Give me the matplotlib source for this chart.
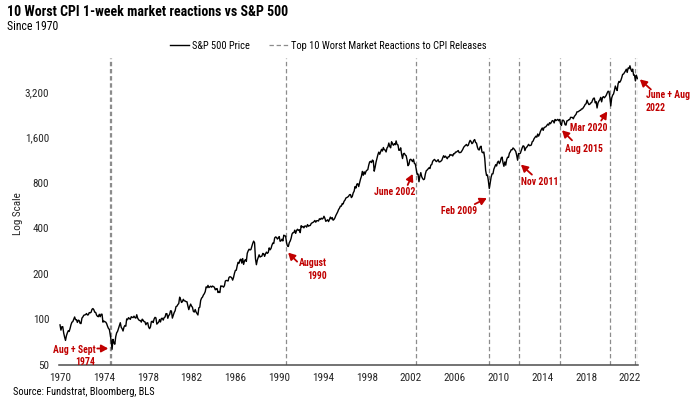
import matplotlib
matplotlib.use("Agg")
import matplotlib.pyplot as plt
from matplotlib import font_manager
from matplotlib.transforms import offset_copy
from matplotlib.ticker import FixedLocator, FuncFormatter, NullLocator
import numpy as np


def _weight(w):
    return w if isinstance(w, int) else font_manager.weight_dict.get(w, 400)


# fuente estrecha tipo Arial Narrow que tenga variante negrita
fonts = font_manager.fontManager.ttflist
candidates = ["Arial Narrow", "Liberation Sans Narrow", "Archivo Narrow", "Roboto Condensed",
              "PT Sans Narrow", "Fira Sans Condensed", "IBM Plex Sans Condensed",
              "Encode Sans Condensed", "Barlow Semi Condensed", "Pragati Narrow"]
narrow = [n for n in candidates
          if any(f.name == n and _weight(f.weight) >= 600 for f in fonts)
          and any(f.name == n and _weight(f.weight) <= 500 for f in fonts)]
plt.rcParams["font.family"] = narrow[:1] + ["Liberation Sans", "DejaVu Sans"]

# --- datos: cierre mensual aproximado del S&P 500 (dic 1969 .. sep 2022) ---
start_value = 92.1
sp500_monthly = [
    85.0, 89.5, 89.6, 81.5, 76.6, 72.7, 78.1, 81.5, 84.2, 83.3, 87.2, 92.2,         # 1970
    95.9, 96.8, 100.3, 103.9, 99.6, 99.7, 95.6, 99.0, 98.3, 94.2, 94.0, 102.1,      # 1971
    103.9, 106.6, 107.2, 107.7, 109.5, 107.1, 107.4, 111.1, 110.6, 111.6, 116.7, 118.1,  # 1972
    116.0, 111.7, 111.5, 107.0, 105.0, 104.3, 108.2, 104.3, 108.4, 108.3, 96.0, 97.6,    # 1973
    96.6, 96.2, 94.0, 90.3, 87.3, 86.0, 79.3, 72.2, 63.5, 73.9, 70.0, 68.6,         # 1974
    77.0, 81.6, 83.4, 87.3, 91.2, 95.2, 88.8, 86.9, 83.9, 89.0, 91.2, 90.2,         # 1975
    100.9, 99.7, 102.8, 101.6, 100.2, 104.3, 103.4, 102.9, 105.2, 102.9, 102.1, 107.5,   # 1976
    102.0, 99.8, 98.4, 98.4, 96.1, 100.5, 98.9, 96.8, 96.5, 92.3, 94.8, 95.1,       # 1977
    89.3, 87.0, 89.2, 96.8, 97.3, 95.5, 100.7, 103.3, 102.5, 93.2, 94.7, 96.1,      # 1978
    99.9, 96.3, 101.6, 101.8, 99.1, 102.9, 103.8, 109.3, 109.3, 101.8, 106.2, 107.9,     # 1979
    114.2, 113.7, 102.1, 106.3, 111.2, 114.2, 121.7, 122.4, 125.5, 127.5, 140.5, 135.8,  # 1980
    129.6, 131.3, 136.0, 132.8, 132.6, 131.2, 130.9, 122.8, 116.2, 121.9, 126.4, 122.6,  # 1981
    120.4, 113.1, 112.0, 116.4, 111.9, 109.6, 107.1, 119.5, 120.4, 133.7, 138.5, 140.6,  # 1982
    145.3, 148.1, 153.0, 164.4, 162.4, 168.1, 162.6, 164.4, 166.1, 163.6, 166.4, 164.9,  # 1983
    163.4, 157.1, 159.2, 160.1, 150.6, 153.2, 150.7, 166.7, 166.1, 166.1, 163.6, 167.2,  # 1984
    179.6, 181.2, 180.7, 179.8, 189.6, 191.9, 190.9, 188.6, 182.1, 189.8, 202.2, 211.3,  # 1985
    211.8, 226.9, 238.9, 235.5, 247.4, 250.8, 236.1, 252.9, 231.3, 244.0, 249.2, 242.2,  # 1986
    274.1, 284.2, 291.7, 288.4, 290.1, 304.0, 318.7, 329.8, 321.8, 251.8, 230.3, 247.1,  # 1987
    257.1, 267.8, 258.9, 261.3, 262.2, 273.5, 272.0, 261.5, 271.9, 279.0, 273.7, 277.7,  # 1988
    297.5, 288.9, 294.9, 309.6, 320.5, 318.0, 346.1, 351.5, 349.2, 340.4, 346.0, 353.4,  # 1989
    329.1, 331.9, 339.9, 330.8, 361.2, 358.0, 356.2, 322.6, 306.1, 304.0, 322.2, 330.2,  # 1990
    343.9, 367.1, 375.2, 375.3, 389.8, 371.2, 387.8, 395.4, 387.9, 392.5, 375.2, 417.1,  # 1991
    408.8, 412.7, 403.7, 415.0, 415.4, 408.1, 424.2, 414.0, 417.8, 418.7, 431.4, 435.7,  # 1992
    438.8, 443.4, 451.7, 440.2, 450.2, 450.5, 448.1, 463.6, 458.9, 467.8, 461.8, 466.5,  # 1993
    481.6, 467.1, 445.8, 450.9, 456.5, 444.3, 458.3, 475.5, 462.7, 472.4, 453.7, 459.3,  # 1994
    470.4, 487.4, 500.7, 514.7, 533.4, 544.8, 562.1, 561.9, 584.4, 581.5, 605.4, 615.9,  # 1995
    636.0, 640.4, 645.5, 654.2, 669.1, 670.6, 640.0, 652.0, 687.3, 705.3, 757.0, 740.7,  # 1996
    786.2, 790.8, 757.1, 801.3, 848.3, 885.1, 954.3, 899.5, 947.3, 914.6, 955.4, 970.4,  # 1997
    980.3, 1049.3, 1101.8, 1111.8, 1090.8, 1133.8, 1120.7, 957.3, 1017.0, 1098.7, 1163.6, 1229.2,  # 1998
    1279.6, 1238.3, 1286.4, 1335.2, 1301.8, 1372.7, 1328.7, 1320.4, 1282.7, 1362.9, 1388.9, 1469.3,  # 1999
    1394.5, 1366.4, 1498.6, 1452.4, 1420.6, 1454.6, 1430.8, 1517.7, 1436.5, 1429.4, 1315.2, 1320.3,  # 2000
    1366.0, 1239.9, 1160.3, 1249.5, 1255.8, 1224.4, 1211.2, 1133.6, 1040.9, 1059.8, 1139.5, 1148.1,  # 2001
    1130.2, 1106.7, 1147.4, 1076.9, 1067.1, 989.8, 911.6, 916.1, 815.3, 885.8, 936.3, 879.8,  # 2002
    855.7, 841.2, 848.2, 916.9, 963.6, 974.5, 990.3, 1008.0, 996.0, 1050.7, 1058.2, 1111.9,  # 2003
    1131.1, 1144.9, 1126.2, 1107.3, 1120.7, 1140.8, 1101.7, 1104.2, 1114.6, 1130.2, 1173.8, 1211.9,  # 2004
    1181.3, 1203.6, 1180.6, 1156.9, 1191.5, 1191.3, 1234.2, 1220.3, 1228.8, 1207.0, 1249.5, 1248.3,  # 2005
    1280.1, 1280.7, 1294.9, 1310.6, 1270.1, 1270.2, 1276.7, 1303.8, 1335.9, 1377.9, 1400.6, 1418.3,  # 2006
    1438.2, 1406.8, 1420.9, 1482.4, 1530.6, 1503.4, 1455.3, 1474.0, 1526.8, 1549.4, 1481.1, 1468.4,  # 2007
    1378.6, 1330.6, 1322.7, 1385.6, 1400.4, 1280.0, 1267.4, 1282.8, 1166.4, 968.8, 896.2, 903.3,  # 2008
    825.9, 735.1, 797.9, 872.8, 919.1, 919.3, 987.5, 1020.6, 1057.1, 1036.2, 1095.6, 1115.1,  # 2009
    1073.9, 1104.5, 1169.4, 1186.7, 1089.4, 1030.7, 1101.6, 1049.3, 1141.2, 1183.3, 1180.6, 1257.6,  # 2010
    1286.1, 1327.2, 1325.8, 1363.6, 1345.2, 1320.6, 1292.3, 1218.9, 1131.4, 1253.3, 1247.0, 1257.6,  # 2011
    1312.4, 1365.7, 1408.5, 1397.9, 1310.3, 1362.2, 1379.3, 1406.6, 1440.7, 1412.2, 1416.2, 1426.2,  # 2012
    1498.1, 1514.7, 1569.2, 1597.6, 1630.7, 1606.3, 1685.7, 1633.0, 1681.6, 1756.5, 1805.8, 1848.4,  # 2013
    1782.6, 1859.5, 1872.3, 1884.0, 1923.6, 1960.2, 1930.7, 2003.4, 1972.3, 2018.1, 2067.6, 2058.9,  # 2014
    1995.0, 2104.5, 2067.9, 2085.5, 2107.4, 2063.1, 2103.8, 1972.2, 1920.0, 2079.4, 2080.4, 2043.9,  # 2015
    1940.2, 1932.2, 2059.7, 2065.3, 2097.0, 2098.9, 2173.6, 2171.0, 2168.3, 2126.2, 2199.0, 2238.8,  # 2016
    2278.9, 2363.6, 2362.7, 2384.2, 2411.8, 2423.4, 2470.3, 2471.7, 2519.4, 2575.3, 2647.6, 2673.6,  # 2017
    2823.8, 2713.8, 2640.9, 2648.1, 2705.3, 2718.4, 2816.3, 2901.5, 2914.0, 2711.7, 2760.2, 2506.9,  # 2018
    2704.1, 2784.5, 2834.4, 2945.8, 2752.1, 2941.8, 2980.4, 2926.5, 2976.7, 3037.6, 3141.0, 3230.8,  # 2019
    3225.5, 2954.2, 2584.6, 2912.4, 3044.3, 3100.3, 3271.1, 3500.3, 3363.0, 3270.0, 3621.6, 3756.1,  # 2020
    3714.2, 3811.2, 3972.9, 4181.2, 4204.1, 4297.5, 4395.3, 4522.7, 4307.5, 4605.4, 4567.0, 4766.2,  # 2021
    4515.6, 4373.9, 4530.4, 4131.9, 4132.2, 3785.4, 4130.3, 3955.0, 3900.0,                          # 2022
]

# 10 peores reacciones semanales a publicaciones del CPI (año decimal)
event_dates = [1974.58, 1974.68, 1990.63, 2002.45, 2009.12, 2011.87,
               2015.62, 2020.2, 2022.45, 2022.70]

labels = ["Aug + Sept\n1974", "August\n1990", "June 2002", "Feb 2009",
          "Nov 2011", "Aug 2015", "Mar 2020", "June + Aug\n2022"]
label_event = [0, 2, 3, 4, 5, 6, 7, 8]

values = np.array([start_value] + sp500_monthly)
dates = 1970 + np.arange(len(values)) / 12

red = "#C00000"
fig = plt.figure(figsize=(6.9, 4.01), dpi=100)
ax = fig.add_axes([0.0854, 0.0898, 0.839, 0.7666])

ax.plot(dates, values, color="black", lw=1.0, label="S&P 500 Price", zorder=3)
for i, d in enumerate(event_dates):
    ax.axvline(d, color="#8c8c8c", lw=0.9, ls=(0, (3.5, 2.2)), zorder=2,
               label="Top 10 Worst Market Reactions to CPI Releases" if i == 0 else None)

ax.set_yscale("log")
ax.set_ylim(50, 5400)
ax.set_xlim(1969.9, 2022.72)
ax.yaxis.set_major_locator(FixedLocator([50, 100, 200, 400, 800, 1600, 3200]))
ax.yaxis.set_minor_locator(NullLocator())
ax.yaxis.set_major_formatter(FuncFormatter(lambda v, p: f"{v:,.0f}"))
ax.set_xticks(np.arange(1970, 2023, 4))
ax.tick_params(length=0, labelsize=8, colors="#262626")
ax.tick_params(axis="y", pad=7)
ax.tick_params(axis="x", pad=6)
for s in ["top", "right", "left"]:
    ax.spines[s].set_visible(False)
ax.spines["bottom"].set_color("#4d4d4d")
ax.spines["bottom"].set_linewidth(1.1)
ax.set_ylabel("Log Scale", fontsize=8, color="#262626")
ax.yaxis.set_label_coords(-0.062, 0.494)

# geometría de las anotaciones, en píxeles:
# punta de flecha respecto a (fecha, precio), cola y texto respecto a la punta
head_off = [(-2, -14), (2, -13), (-3, -8), (-2, -14), (2, -11), (2, -9), (-3, -11), (5, -2)]
tail_off = [(-11, 0), (9, -9), (-5, -11), (-12, -6), (11, -10), (10, -10), (-6, -9), (11, -10)]
text_off = [(-13, -7.5), (39, -16.5), (-18, -18), (-28, -13), (19, -17), (22, -19), (-18, -16), (6, -22.5)]
text_ha = ["right", "right", "center", "center", "center", "center", "center", "left"]

for k, (txt, ev) in enumerate(zip(labels, label_event)):
    d = event_dates[ev]
    v = np.interp(d, dates, values)
    tr = offset_copy(ax.transData, fig=fig, x=head_off[k][0], y=head_off[k][1], units="dots")
    ax.annotate("", xy=(d, v), xycoords=tr, xytext=tail_off[k], textcoords="offset pixels",
                arrowprops=dict(arrowstyle="-|>,head_length=0.4,head_width=0.22",
                                color=red, lw=1.3, mutation_scale=10,
                                shrinkA=0, shrinkB=0), zorder=4)
    ax.annotate(txt, xy=(d, v), xycoords=tr, xytext=text_off[k], textcoords="offset pixels",
                ha=text_ha[k], va="center", multialignment=text_ha[k], linespacing=1.35,
                fontsize=7, fontweight="bold", color=red, zorder=4)

fig.text(0.010, 0.970, "10 Worst CPI 1-week market reactions vs S&P 500",
         fontsize=10, fontweight="bold", va="center")
fig.text(0.010, 0.935, "Since 1970", fontsize=8.5, va="center")
fig.text(0.019, 0.0224, "Source: Fundstrat, Bloomberg, BLS", fontsize=7.5, va="center")
fig.legend(loc="center", bbox_to_anchor=(0.476, 0.886), ncol=2, frameon=False,
           fontsize=7.5, handlelength=1.8, handletextpad=0.3, columnspacing=1.8)

plt.savefig("out.png", dpi=100)
plt.close()
